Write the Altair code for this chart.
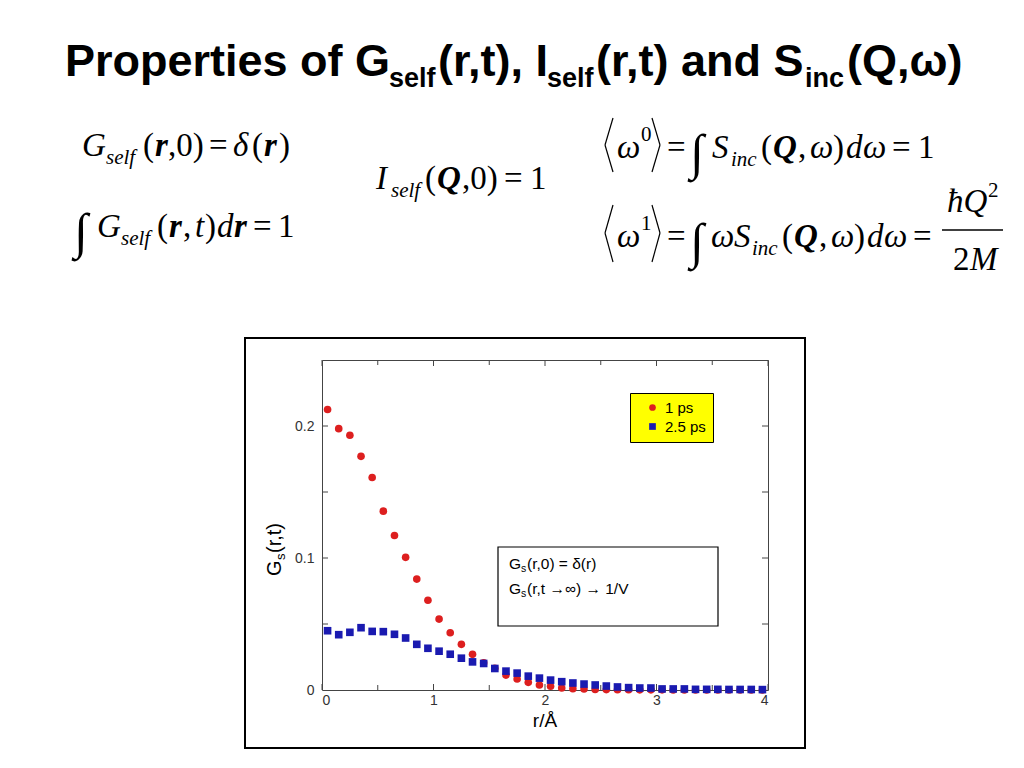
import altair as alt
import pandas as pd

# ---------------- data ----------------
r_values = [0.05, 0.15, 0.25, 0.35, 0.45, 0.55, 0.65, 0.75, 0.85, 0.95,
            1.05, 1.15, 1.25, 1.35, 1.45, 1.55, 1.65, 1.75, 1.85, 1.95,
            2.05, 2.15, 2.25, 2.35, 2.45, 2.55, 2.65, 2.75, 2.85, 2.95,
            3.05, 3.15, 3.25, 3.35, 3.45, 3.55, 3.65, 3.75, 3.85, 3.95]
g_1ps = [0.2125, 0.198, 0.193, 0.177, 0.161, 0.1355, 0.117, 0.1005, 0.084, 0.068,
         0.0537, 0.0434, 0.0346, 0.027, 0.0206, 0.0165, 0.0113, 0.0083, 0.0058, 0.0038,
         0.0028, 0.0015, 0.001, 0.0008, 0.0004, 0.0003, 0.0002, 0.0002, 0.0001, 0.0001,
         0.0001, 0.0, 0.0, 0.0, 0.0, 0.0, 0.0, 0.0, 0.0, 0.0]
g_25ps = [0.0449, 0.0419, 0.0437, 0.0472, 0.0444, 0.0442, 0.0422, 0.0394, 0.0346, 0.0316,
          0.0294, 0.0271, 0.0241, 0.0213, 0.0201, 0.0163, 0.0143, 0.0128, 0.0105, 0.009,
          0.0075, 0.0063, 0.0053, 0.0045, 0.0038, 0.003, 0.0023, 0.0018, 0.0015, 0.0015,
          0.0008, 0.0008, 0.0008, 0.0005, 0.0005, 0.0005, 0.0004, 0.0004, 0.0004, 0.0003]
series_names = ["1 ps", "2.5 ps"]
series_colors = ["#dd1f1f", "#1a1ab0"]
series_shapes = ["circle", "square"]

x_major = [0, 1, 2, 3, 4]
x_minor = [0.5, 1.5, 2.5, 3.5]
y_labels = [0, 0.1, 0.2]
y_ticks = [0.05, 0.1, 0.15, 0.2]

# ---------------- layout ----------------
W, H = 446, 330          # plot area
OX, OY = 322, 360        # page position of plot origin
SERIF = "Liberation Serif"
SANS = "Liberation Sans"

df = pd.DataFrame({
    "r": r_values * 2,
    "G": g_1ps + g_25ps,
    "series": [series_names[0]] * len(r_values) + [series_names[1]] * len(r_values),
})

xs = alt.Scale(domain=[0, 4], nice=False, zero=False)
ys = alt.Scale(domain=[0, 0.25], nice=False, zero=False)


def one():
    return pd.DataFrame({"t": [""]})


def T(s, px, py, size, font=SERIF, style="normal", weight="normal", align="left",
      angle=0, color="black"):
    return alt.Chart(pd.DataFrame({"t": [s]})).mark_text(
        align=align, baseline="alphabetic", font=font, fontSize=size,
        fontStyle=style, fontWeight=weight, color=color, angle=angle,
    ).encode(text="t:N", x=alt.value(px - OX), y=alt.value(py - OY))


def L(x1, y1, x2, y2, width=1.2, color="black"):
    return alt.Chart(one()).mark_rule(color=color, strokeWidth=width).encode(
        x=alt.value(x1 - OX), y=alt.value(y1 - OY),
        x2=alt.value(x2 - OX), y2=alt.value(y2 - OY))


def R(x1, y1, x2, y2, fill, stroke, sw):
    return alt.Chart(one()).mark_rect(fill=fill, stroke=stroke, strokeWidth=sw).encode(
        x=alt.value(x1 - OX), y=alt.value(y1 - OY),
        x2=alt.value(x2 - OX), y2=alt.value(y2 - OY))


layers = []

# outer frame around the figure
layers.append(R(245, 338, 805, 748, "transparent", "black", 2))

# ---------------- title ----------------
TS, TSS, TB, TSB = 45, 27, 76, 87
layers += [
    T("Properties of G", 65, TB, TS, SANS, weight="bold"),
    T("self", 389, TSB, TSS, SANS, weight="bold"),
    T("(r,t), I", 438, TB, TS, SANS, weight="bold"),
    T("self", 547, TSB, TSS, SANS, weight="bold"),
    T("(r,t) and S", 596, TB, TS, SANS, weight="bold"),
    T("inc", 805, TSB, TSS, SANS, weight="bold"),
    T("(Q,\u03c9)", 847, TB, TS, SANS, weight="bold"),
]

# ---------------- equations ----------------
ES, ESS, IS = 33, 21, 50
# G_self(r,0) = delta(r)
b = 156
layers += [
    T("G", 82, b, ES, style="italic"),
    T("self", 106, b + 8, ESS, style="italic"),
    T("(", 143, b, ES),
    T("r", 155, b, ES, style="italic", weight="bold"),
    T(",0)", 168, b, ES),
    T("=", 209, b, ES),
    T("\u03b4", 233, b, ES, style="italic"),
    T("(", 252, b, ES),
    T("r", 264, b, ES, style="italic", weight="bold"),
    T(")", 279, b, ES),
]
# int G_self(r,t) dr = 1
b = 237
layers += [
    T("\u222b", 74, b + 11, IS),
    T("G", 97, b, ES, style="italic"),
    T("self", 121, b + 8, ESS, style="italic"),
    T("(", 157, b, ES),
    T("r", 169, b, ES, style="italic", weight="bold"),
    T(",", 183, b, ES),
    T("t", 195, b, ES, style="italic"),
    T(")", 205, b, ES),
    T("d", 217, b, ES, style="italic"),
    T("r", 234, b, ES, style="italic", weight="bold"),
    T("=", 253, b, ES),
    T("1", 278, b, ES),
]
# I_self(Q,0) = 1
b = 189
layers += [
    T("I", 376, b, ES, style="italic"),
    T("self", 391, b + 8, ESS, style="italic"),
    T("(", 425, b, ES),
    T("Q", 437, b, ES, style="italic", weight="bold"),
    T(",0)", 462, b, ES),
    T("=", 504, b, ES),
    T("1", 530, b, ES),
]
# <w^0> = int S_inc(Q,w) dw = 1
b = 158
layers += [
    L(613, 118, 605, 145), L(605, 145, 613, 172),
    T("\u03c9", 617, b, ES, style="italic"),
    T("0", 641, b - 17, ESS),
    L(652, 118, 660, 145), L(660, 145, 652, 172),
    T("=", 667, b, ES),
    T("\u222b", 690, b + 11, IS),
    T("S", 712, b, ES, style="italic"),
    T("inc", 731, b + 8, ESS, style="italic"),
    T("(", 761, b, ES),
    T("Q", 773, b, ES, style="italic", weight="bold"),
    T(",", 798, b, ES),
    T("\u03c9", 810, b, ES, style="italic"),
    T(")", 833, b, ES),
    T("d", 846, b, ES, style="italic"),
    T("\u03c9", 863, b, ES, style="italic"),
    T("=", 892, b, ES),
    T("1", 918, b, ES),
]
# <w^1> = int w S_inc(Q,w) dw = hbar Q^2 / 2M
b = 247
layers += [
    L(613, 205, 605, 233), L(605, 233, 613, 262),
    T("\u03c9", 617, b, ES, style="italic"),
    T("1", 641, b - 17, ESS),
    L(652, 205, 660, 233), L(660, 233, 652, 262),
    T("=", 667, b, ES),
    T("\u222b", 690, b + 11, IS),
    T("\u03c9", 711, b, ES, style="italic"),
    T("S", 734, b, ES, style="italic"),
    T("inc", 752, b + 8, ESS, style="italic"),
    T("(", 782, b, ES),
    T("Q", 794, b, ES, style="italic", weight="bold"),
    T(",", 819, b, ES),
    T("\u03c9", 831, b, ES, style="italic"),
    T(")", 854, b, ES),
    T("d", 867, b, ES, style="italic"),
    T("\u03c9", 884, b, ES, style="italic"),
    T("=", 913, b, ES),
    T("\u0127Q", 947, 212, ES, style="italic"),
    T("2", 988, 197, ESS),
    L(942, 230, 1003, 230, 1.5),
    T("2", 953, 270, ES),
    T("M", 970, 270, ES, style="italic"),
]

# ---------------- plot ----------------
points = alt.Chart(df).mark_point(filled=True, size=58, opacity=1).encode(
    x=alt.X("r:Q", scale=xs, axis=alt.Axis(values=x_major, title=None, grid=False,
                                             ticks=False, domain=False, format="~g",
                                             labelFontSize=14, labelFont=SANS,
                                             labelColor="#333", labelPadding=3, zindex=1)),
    y=alt.Y("G:Q", scale=ys, axis=alt.Axis(values=y_labels, title=None, grid=False,
                                             ticks=False, domain=False, format="~g",
                                             labelFontSize=14, labelFont=SANS,
                                             labelColor="#333", labelPadding=8, zindex=1)),
    color=alt.Color("series:N", scale=alt.Scale(domain=series_names, range=series_colors),
                    legend=alt.Legend(title=None, orient="none", legendX=308, legendY=33,
                                      fillColor="#ffff00", strokeColor="black",
                                      padding=7, symbolOffset=8, labelFontSize=15,
                                      labelFont=SANS, labelColor="black", symbolSize=45,
                                      rowPadding=3, labelOffset=5)),
    shape=alt.Shape("series:N", scale=alt.Scale(domain=series_names, range=series_shapes)),
    order=alt.Order("series:N"),
)

tick_x_major = pd.DataFrame({"v": x_major})
tick_x_minor = pd.DataFrame({"v": x_minor})
tick_y = pd.DataFrame({"v": y_ticks})
tick_color = "#444"
ticks = [
    alt.Chart(tick_x_major).mark_rule(color=tick_color).encode(
        x=alt.X("v:Q", scale=xs), y=alt.value(H - 6), y2=alt.value(H)),
    alt.Chart(tick_x_major).mark_rule(color=tick_color).encode(
        x=alt.X("v:Q", scale=xs), y=alt.value(0), y2=alt.value(6)),
    alt.Chart(tick_x_minor).mark_rule(color=tick_color).encode(
        x=alt.X("v:Q", scale=xs), y=alt.value(H - 5), y2=alt.value(H)),
    alt.Chart(tick_x_minor).mark_rule(color=tick_color).encode(
        x=alt.X("v:Q", scale=xs), y=alt.value(0), y2=alt.value(5)),
    alt.Chart(tick_y).mark_rule(color=tick_color).encode(
        y=alt.Y("v:Q", scale=ys), x=alt.value(0), x2=alt.value(6)),
    alt.Chart(tick_y).mark_rule(color=tick_color).encode(
        y=alt.Y("v:Q", scale=ys), x=alt.value(W - 6), x2=alt.value(W)),
]
layers += ticks

# annotation box inside plot
layers.append(R(498, 547, 718, 626, "white", "black", 1.2))
layers += [
    T("G", 509, 569, 15.5, SANS),
    T("s", 521, 572, 10.5, SANS),
    T("(r,0) = \u03b4(r)", 527, 569, 15.5, SANS),
    T("G", 509, 594, 15.5, SANS),
    T("s", 521, 597, 10.5, SANS),
    T("(r,t \u2192\u221e) \u2192 1/V", 527, 594, 15.5, SANS),
]

layers.append(points)

# axis titles
layers += [
    T("G", 281, 576, 20, SANS, angle=270),
    T("s", 285, 560, 13, SANS, angle=270),
    T("(r,t)", 281, 553, 20, SANS, angle=270),
    T("r/\u00c5", 545, 727, 19, SANS, align="center"),
]

chart = alt.layer(*layers).properties(
    width=W, height=H,
    padding={"left": OX - 8, "top": OY - 8, "right": 1000 - (OX - 8) - W,
             "bottom": 745 - (OY - 8) - H},
    autosize=alt.AutoSizeParams(type="none"),
    background="white",
).configure_view(stroke="#444", strokeWidth=1)

chart.save("out.html", embed_options={"renderer": "svg", "actions": False})
